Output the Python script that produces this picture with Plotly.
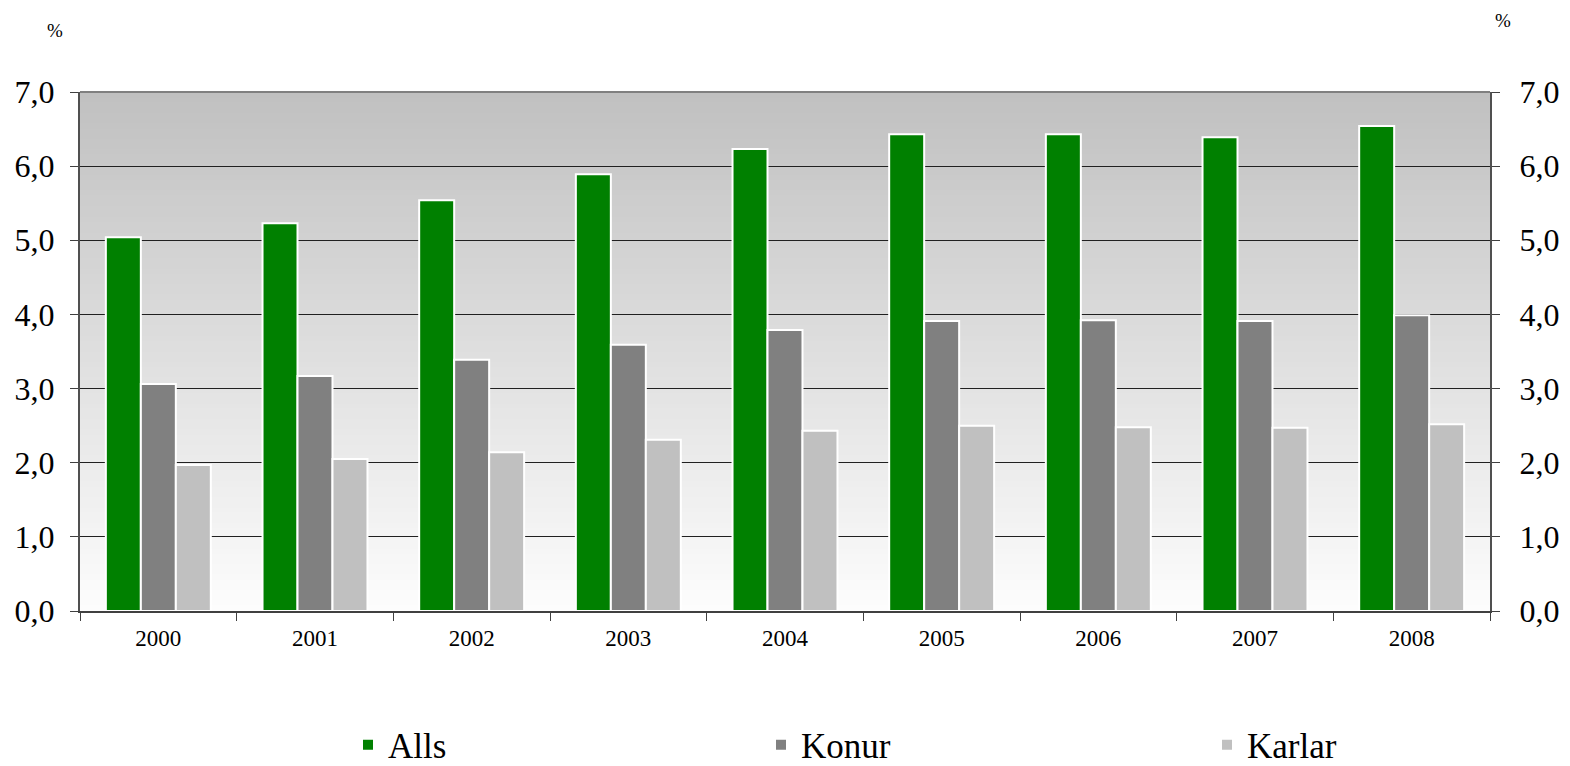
import plotly.graph_objects as go

years = ["2000", "2001", "2002", "2003", "2004", "2005", "2006", "2007", "2008"]
alls = [5.04, 5.23, 5.54, 5.89, 6.23, 6.43, 6.43, 6.39, 6.54]
konur = [3.06, 3.17, 3.39, 3.59, 3.79, 3.91, 3.92, 3.91, 3.99]
karlar = [1.97, 2.05, 2.14, 2.31, 2.43, 2.50, 2.48, 2.47, 2.52]
series_names = ["Alls", "Konur", "Karlar"]
series_colors = ["#008000", "#808080", "#c0c0c0"]
y_ticks = [0, 1, 2, 3, 4, 5, 6, 7]
y_ticktext = ["0,0", "1,0", "2,0", "3,0", "4,0", "5,0", "6,0", "7,0"]

FONT = "Liberation Serif, Times New Roman, serif"

# page body has an 8px margin; figure sized to fit the 1570x766 window
W, H = 1562, 758
L, R, T, B = 72, 80, 84, 155
PW = W - L - R
PH = H - T - B

legend_names = ["legend", "legend2", "legend3"]
legend_x_fig = [340, 753, 1199]

fig = go.Figure()
for name, vals, col, lg in zip(series_names, [alls, konur, karlar], series_colors, legend_names):
    fig.add_trace(go.Bar(
        x=years, y=vals, name=name, legend=lg,
        marker=dict(color=col, line=dict(color="white", width=2)),
    ))

# invisible helper trace so the right axis renders
fig.add_trace(go.Scatter(x=[years[0]], y=[0], mode="none", yaxis="y2",
                         showlegend=False, hoverinfo="skip"))

# gradient background via overlapping stripes (each extends to the top)
N = 100
shapes = []
for i in range(N):
    y0 = 7 * i / N
    t = (i + 0.5) / N  # 0 bottom, 1 top
    c = int(round(253 - (253 - 192) * t))
    shapes.append(dict(type="rect", xref="paper", yref="y", x0=0, x1=1, y0=y0, y1=7,
                       fillcolor=f"rgb({c},{c},{c})", line=dict(width=0), layer="below"))

legend_common = dict(
    orientation="h", xanchor="left",
    y=-(737 - (T + PH)) / PH, yanchor="middle",
    font=dict(size=35, family=FONT),
    itemclick=False, bgcolor="rgba(0,0,0,0)",
)

layout_legends = {}
for lg, xf in zip(legend_names, legend_x_fig):
    layout_legends[lg] = dict(legend_common, x=(xf - L) / PW)

fig.update_layout(
    width=W, height=H,
    margin=dict(l=L, r=R, t=T, b=B, autoexpand=False),
    paper_bgcolor="white",
    plot_bgcolor="white",
    barmode="group",
    bargap=0.33,
    bargroupgap=0.0,
    shapes=shapes,
    showlegend=True,
    font=dict(family=FONT, color="black"),
    xaxis=dict(
        type="category",
        tickson="boundaries",
        ticks="outside", ticklen=8, tickcolor="#404040",
        showline=True, linecolor="#404040", linewidth=1.5,
        showgrid=False, automargin=False,
        tickfont=dict(size=23, family=FONT),
        ticklabelstandoff=6,
    ),
    yaxis=dict(
        range=[0, 7],
        tickvals=y_ticks, ticktext=y_ticktext,
        ticks="outside", ticklen=8, tickcolor="#404040",
        showline=True, linecolor="#505050", linewidth=2,
        showgrid=True, gridcolor="#202020", gridwidth=1,
        zeroline=False, automargin=False,
        tickfont=dict(size=32, family=FONT),
        ticklabelstandoff=9,
    ),
    yaxis2=dict(
        range=[0, 7], overlaying="y", side="right",
        tickvals=y_ticks, ticktext=y_ticktext,
        ticks="outside", ticklen=8, tickcolor="#404040",
        showline=True, linecolor="#505050", linewidth=2,
        showgrid=False, zeroline=False, automargin=False,
        tickfont=dict(size=32, family=FONT),
        ticklabelstandoff=13,
    ),
    annotations=[
        dict(text="%", xref="paper", yref="paper", x=(47 - L) / PW, y=1.0, yshift=T - 22,
             showarrow=False, font=dict(size=19, family=FONT), xanchor="center", yanchor="middle"),
        dict(text="%", xref="paper", yref="paper", x=(1495 - L) / PW, y=1.0, yshift=T - 12,
             showarrow=False, font=dict(size=19, family=FONT), xanchor="center", yanchor="middle"),
    ],
    **layout_legends,
)

# top border line
fig.add_shape(type="line", xref="paper", yref="paper", x0=0, x1=1, y0=1, y1=1,
              line=dict(color="#808080", width=2))

fig.write_html("out.html")
